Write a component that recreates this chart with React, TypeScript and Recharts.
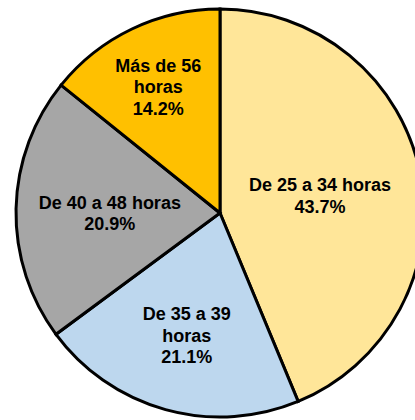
import { PieChart, Pie, Cell } from 'recharts';

const categories = ['De 25 a 34 horas', 'De 35 a 39 horas', 'De 40 a 48 horas', 'Más de 56 horas'];
const shares = [43.7, 21.1, 20.9, 14.2];
const colors = ['#FFE699', '#BDD7EE', '#A6A6A6', '#FFC000'];

// label placement: fraction of radius, and whether "horas" goes on its own line
const labelLayout = [
  { r: 0.5, wrap: false },
  { r: 0.61, wrap: true },
  { r: 0.54, wrap: false },
  { r: 0.7, wrap: true },
];

const data = categories.map((name, i) => ({ name, value: shares[i] }));

const RADIAN = Math.PI / 180;

function renderLabel(props: any) {
  const { cx, cy, midAngle, outerRadius, index, value, name } = props;
  const layout = labelLayout[index];
  const r = outerRadius * layout.r;
  const x = cx + r * Math.cos(-midAngle * RADIAN);
  const y = cy + r * Math.sin(-midAngle * RADIAN) + 3;
  const lines = layout.wrap ? [name.replace(/ horas$/, ''), 'horas'] : [name];
  lines.push(`${Number(value).toFixed(1)}%`);
  const lineHeight = 21.5;
  const top = y - ((lines.length - 1) * lineHeight) / 2;
  return (
    <text
      x={x}
      y={top}
      textAnchor="middle"
      fill="#000"
      fontFamily="'Liberation Sans', Arial, sans-serif"
      fontWeight="bold"
      fontSize={18}
    >
      {lines.map((line, i) => (
        <tspan key={i} x={x} y={top + i * lineHeight} dominantBaseline="central">
          {line}
        </tspan>
      ))}
    </text>
  );
}

export default function App() {
  return (
    <div style={{ position: 'absolute', left: 0, top: 0, background: '#fff' }}>
      <PieChart width={415} height={420} margin={{ top: 0, right: 0, bottom: 0, left: 0 }}>
        <Pie
          data={data}
          dataKey="value"
          nameKey="name"
          cx={220}
          cy={213}
          outerRadius={204}
          startAngle={90}
          endAngle={-270}
          stroke="#000"
          strokeWidth={3}
          label={renderLabel}
          labelLine={false}
          isAnimationActive={false}
        >
          {data.map((d, i) => (
            <Cell key={d.name} fill={colors[i]} />
          ))}
        </Pie>
      </PieChart>
    </div>
  );
}
